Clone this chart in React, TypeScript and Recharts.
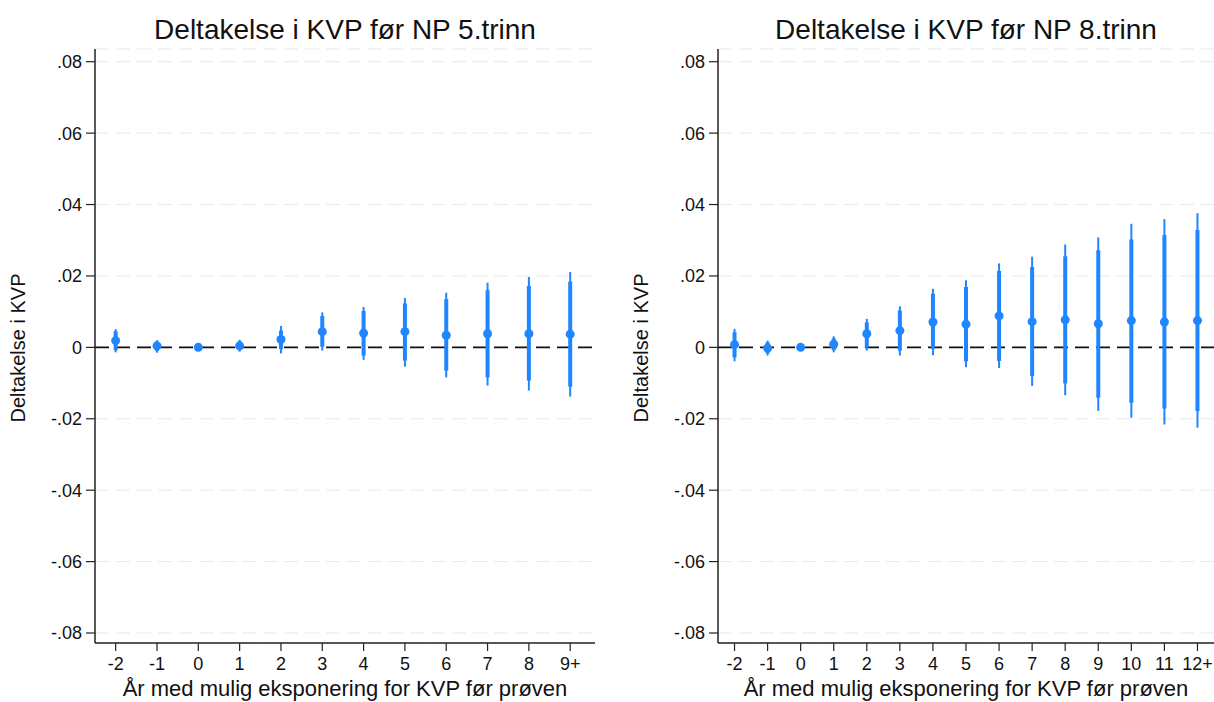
import * as React from 'react';
import {
  ComposedChart, Scatter, ErrorBar, XAxis, YAxis, CartesianGrid, ReferenceLine,
} from 'recharts';

// x positions (years of exposure) and labels
const xs5 = [-2, -1, 0, 1, 2, 3, 4, 5, 6, 7, 8, 9];
const labels5 = ['-2', '-1', '0', '1', '2', '3', '4', '5', '6', '7', '8', '9+'];
const est5 = [0.0019, 0.0004, 0, 0.0004, 0.0022, 0.0044, 0.004, 0.0044, 0.0034, 0.0038, 0.0038, 0.0037];
const lo95_5 = [-0.0014, -0.0015, 0, -0.0012, -0.0017, -0.0009, -0.0035, -0.0054, -0.0084, -0.0107, -0.0121, -0.0138];
const hi95_5 = [0.0051, 0.002, 0, 0.0021, 0.006, 0.0098, 0.0113, 0.0138, 0.0153, 0.0181, 0.0197, 0.0211];
const lo90_5 = [-0.0008, -0.0010, 0, -0.0008, -0.0005, 0.0002, -0.0023, -0.0037, -0.0065, -0.0084, -0.0093, -0.011];
const hi90_5 = [0.0045, 0.0016, 0, 0.0017, 0.0047, 0.0088, 0.0102, 0.0123, 0.0135, 0.016, 0.0172, 0.0184];

const xs8 = [-2, -1, 0, 1, 2, 3, 4, 5, 6, 7, 8, 9, 10, 11, 12];
const labels8 = ['-2', '-1', '0', '1', '2', '3', '4', '5', '6', '7', '8', '9', '10', '11', '12+'];
const est8 = [0.00075, -0.0002, 0, 0.0009, 0.0038, 0.0047, 0.0071, 0.0065, 0.0088, 0.0072, 0.0077, 0.0066, 0.0075, 0.0071, 0.0075];
const lo95_8 = [-0.0039, -0.0023, 0, -0.0014, -0.0009, -0.0023, -0.0022, -0.0056, -0.0058, -0.0108, -0.0134, -0.0178, -0.0197, -0.0216, -0.0225];
const hi95_8 = [0.0052, 0.0019, 0, 0.0031, 0.008, 0.0115, 0.0164, 0.0188, 0.0235, 0.0254, 0.0288, 0.0308, 0.0346, 0.0359, 0.0376];
const lo90_8 = [-0.0028, -0.0017, 0, -0.0008, 0, -0.0009, -0.0005, -0.0039, -0.0038, -0.008, -0.0101, -0.0141, -0.0155, -0.0171, -0.0178];
const hi90_8 = [0.0042, 0.0014, 0, 0.0025, 0.007, 0.0103, 0.015, 0.0169, 0.0214, 0.0225, 0.0255, 0.0272, 0.0302, 0.0315, 0.0329];

const yTicks = [-0.08, -0.06, -0.04, -0.02, 0, 0.02, 0.04, 0.06, 0.08];
const fmtY = (v: number) => {
  if (Math.abs(v) < 1e-9) return '0';
  const s = Math.abs(v).toFixed(2).replace(/^0/, '');
  return v < 0 ? '-' + s : s;
};

const BLUE = '#1f86ff';
const FONT = '"Liberation Sans", Arial, Helvetica, sans-serif';

type PanelProps = {
  title: string;
  xs: number[];
  labels: string[];
  est: number[];
  lo95: number[];
  hi95: number[];
  lo90: number[];
  hi90: number[];
  left: number;
  width: number;
  axisLeft: number;       // x of y-axis inside the panel
  marginRight: number;
  xPadRight: number;
};

function Panel(p: PanelProps) {
  const data = p.xs.map((x, i) => ({
    x, y: p.est[i],
    e95: [p.est[i] - p.lo95[i], p.hi95[i] - p.est[i]],
    e90: [p.est[i] - p.lo90[i], p.hi90[i] - p.est[i]],
  }));
  const labelOf = (v: number) => p.labels[p.xs.indexOf(v)] ?? String(v);
  const plotCenter = p.axisLeft + (p.width - p.axisLeft - p.marginRight) / 2;
  return (
    <div style={{ position: 'absolute', left: p.left, top: 0, width: p.width, height: 702 }}>
      <div style={{ position: 'absolute', left: plotCenter - 300, width: 600, top: 13, textAlign: 'center',
        fontFamily: FONT, fontSize: 28, color: '#111', lineHeight: '34px' }}>{p.title}</div>
      <div style={{ position: 'absolute', left: p.axisLeft - 77 - 100, top: 348 - 12, width: 200, height: 24,
        lineHeight: '24px', textAlign: 'center', fontFamily: FONT, fontSize: 20, color: '#111',
        transform: 'rotate(-90deg)' }}>Deltakelse i KVP</div>
      <div style={{ position: 'absolute', left: plotCenter - 300, width: 600, top: 676, textAlign: 'center',
        fontFamily: FONT, fontSize: 22, color: '#111', lineHeight: '25px' }}>År med mulig eksponering for KVP før prøven</div>
      <ComposedChart width={p.width} height={702} data={data}
        margin={{ top: 49, right: p.marginRight, bottom: 29, left: 0 }} style={{ position: 'absolute', left: 0, top: 0 }}>
        <CartesianGrid horizontal vertical={false} stroke="#e8e8e8" strokeDasharray="14 7" />
        <XAxis type="number" dataKey="x" domain={[p.xs[0] - 0.5, p.xs[p.xs.length - 1] + p.xPadRight]} ticks={p.xs}
          tickFormatter={labelOf} allowDataOverflow interval={0}
          tick={{ fill: '#111', fontSize: 18, fontFamily: FONT }} tickSize={8} tickMargin={6}
          axisLine={{ stroke: '#222', strokeWidth: 1.5 }} tickLine={{ stroke: '#222', strokeWidth: 1.2 }} />
        <YAxis type="number" dataKey="y" domain={[-0.0828, 0.08356]} ticks={yTicks} allowDataOverflow interval={0}
          width={p.axisLeft} tickFormatter={fmtY}
          tick={{ fill: '#111', fontSize: 18, fontFamily: FONT }} tickSize={9} tickMargin={4}
          axisLine={{ stroke: '#222', strokeWidth: 1.5 }} tickLine={{ stroke: '#222', strokeWidth: 1.2 }} />
        <ReferenceLine y={0} stroke="#111" strokeWidth={1.6} strokeDasharray="14 7" />
        <Scatter dataKey="y" fill={BLUE} isAnimationActive={false}
          shape={(s: any) => <circle cx={s.cx} cy={s.cy} r={4.5} fill={BLUE} />}>
          <ErrorBar dataKey="e95" direction="y" width={0} stroke={BLUE} strokeWidth={2} isAnimationActive={false} />
          <ErrorBar dataKey="e90" direction="y" width={0} stroke={BLUE} strokeWidth={4} isAnimationActive={false} />
        </Scatter>
      </ComposedChart>
    </div>
  );
}

export default function App() {
  return (
    <div style={{ position: 'absolute', left: 0, top: 0, width: 1214, height: 702, background: '#fff', overflow: 'hidden' }}>
      <Panel title="Deltakelse i KVP før NP 5.trinn" xs={xs5} labels={labels5} est={est5}
        lo95={lo95_5} hi95={hi95_5} lo90={lo90_5} hi90={hi90_5}
        left={0} width={600} axisLeft={95} marginRight={5} xPadRight={0.6} />
      <Panel title="Deltakelse i KVP før NP 8.trinn" xs={xs8} labels={labels8} est={est8}
        lo95={lo95_8} hi95={hi95_8} lo90={lo90_8} hi90={hi90_8}
        left={610} width={604} axisLeft={108} marginRight={0} xPadRight={0.5} />
    </div>
  );
}
